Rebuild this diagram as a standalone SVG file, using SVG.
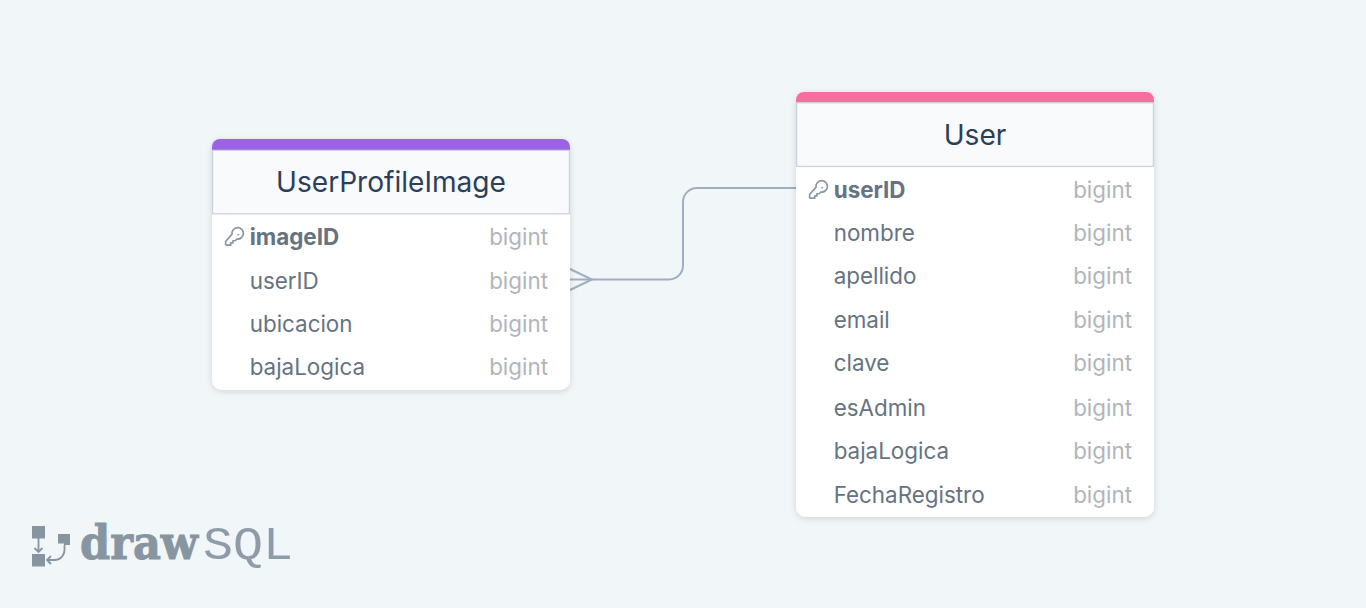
<svg xmlns="http://www.w3.org/2000/svg" width="1366" height="608" viewBox="0 0 1366 608">
<style>
text{font-family:Inter,"Liberation Sans",sans-serif}
.title{font-size:28.1px;fill:#2d3f58;text-anchor:middle}
.col{font-size:22.4px;fill:#657382}
.pk{font-weight:700}
.type{font-size:22.4px;fill:#b0b5bb;text-anchor:end}
.hdr{fill:#f8fafc;stroke:#cbd5e0;stroke-width:1.3}
.key{fill:none;stroke:#8896a5;stroke-width:1.9;stroke-linecap:round;stroke-linejoin:round}
.conn{fill:none;stroke:#a0aec0;stroke-width:2}
.logo{fill:#8795a1}
</style>
<defs>
<filter id="sh" x="-10%" y="-10%" width="120%" height="120%"><feDropShadow dx="0" dy="1.5" stdDeviation="3" flood-color="#000" flood-opacity="0.14"/></filter>
<g id="keyicon" transform="scale(0.88)"><path class="key" d="M8 -5.500a6.500 6.500 0 1 1 5.500 5.500l-2 2h-2.500v2.500h-2.500v2.500H1.500l-.8-.8v-3.400z"/><circle cx="15" cy="-5" r="1.100" fill="#8896a5"/></g>
</defs>
<rect width="1366" height="608" fill="#f1f6f9"/>
<g id="connectors">
<path class="conn" d="M570 279.500H669a14 14 0 0 0 14-14V202a14 14 0 0 1 14-14H796"/>
<path class="conn" stroke-width="1.600" d="M570 269L592 279.500L570 290"/>
</g>
<g id="UserProfileImage">
<rect x="212" y="139" width="358" height="251" rx="10" fill="#fff" filter="url(#sh)"/>
<path d="M212 151V147a8 8 0 0 1 8-8H562a8 8 0 0 1 8 8V151z" fill="#9b63e3"/>
<rect class="hdr" x="212.600" y="150.400" width="356.800" height="63.400"/>
<text class="title" x="391" y="192">UserProfileImage</text>
<use href="#keyicon" x="225" y="239"/>
<text class="col pk" x="249.700" y="245">imageID</text><text class="type" x="548" y="245">bigint</text>
<text class="col" x="249.700" y="289">userID</text><text class="type" x="548" y="289">bigint</text>
<text class="col" x="249.700" y="332">ubicacion</text><text class="type" x="548" y="332">bigint</text>
<text class="col" x="249.700" y="375">bajaLogica</text><text class="type" x="548" y="375">bigint</text>
</g>
<g id="User">
<rect x="796" y="92" width="358" height="425" rx="10" fill="#fff" filter="url(#sh)"/>
<path d="M796 104V100a8 8 0 0 1 8-8H1146a8 8 0 0 1 8 8V104z" fill="#f76d9b"/>
<rect class="hdr" x="796.600" y="102.800" width="356.800" height="63.600"/>
<text class="title" x="975" y="144.500">User</text>
<use href="#keyicon" x="809" y="192"/>
<text class="col pk" x="833.700" y="198">userID</text><text class="type" x="1132" y="198">bigint</text>
<text class="col" x="833.700" y="241">nombre</text><text class="type" x="1132" y="241">bigint</text>
<text class="col" x="833.700" y="284">apellido</text><text class="type" x="1132" y="284">bigint</text>
<text class="col" x="833.700" y="328">email</text><text class="type" x="1132" y="328">bigint</text>
<text class="col" x="833.700" y="371">clave</text><text class="type" x="1132" y="371">bigint</text>
<text class="col" x="833.700" y="416">esAdmin</text><text class="type" x="1132" y="416">bigint</text>
<text class="col" x="833.700" y="459">bajaLogica</text><text class="type" x="1132" y="459">bigint</text>
<text class="col" x="833.700" y="503">FechaRegistro</text><text class="type" x="1132" y="503">bigint</text>
</g>
<g id="logo">
<rect class="logo" x="32" y="526" width="13" height="12.500"/>
<rect class="logo" x="32" y="554" width="13" height="12.500"/>
<path class="logo" d="M58 534H70V545H64V543.500H58z"/>
<path d="M38.500 538V552M34.500 548L38.500 552L42.500 548M64.500 545V550a10 10 0 0 1-10 10H47M51 556L47 560L51 564" fill="none" stroke="#8795a1" stroke-width="1.800"/>
<text x="80" y="559" font-size="46" font-weight="700" fill="#8795a1" stroke="#8795a1" stroke-width="1" style="font-family:'DejaVu Serif',serif" textLength="118" lengthAdjust="spacingAndGlyphs">draw</text>
<text x="203" y="559" font-size="47" fill="#8f9ca8" style="font-family:'Liberation Mono',monospace" textLength="90" lengthAdjust="spacingAndGlyphs">SQL</text>
</g>
</svg>
